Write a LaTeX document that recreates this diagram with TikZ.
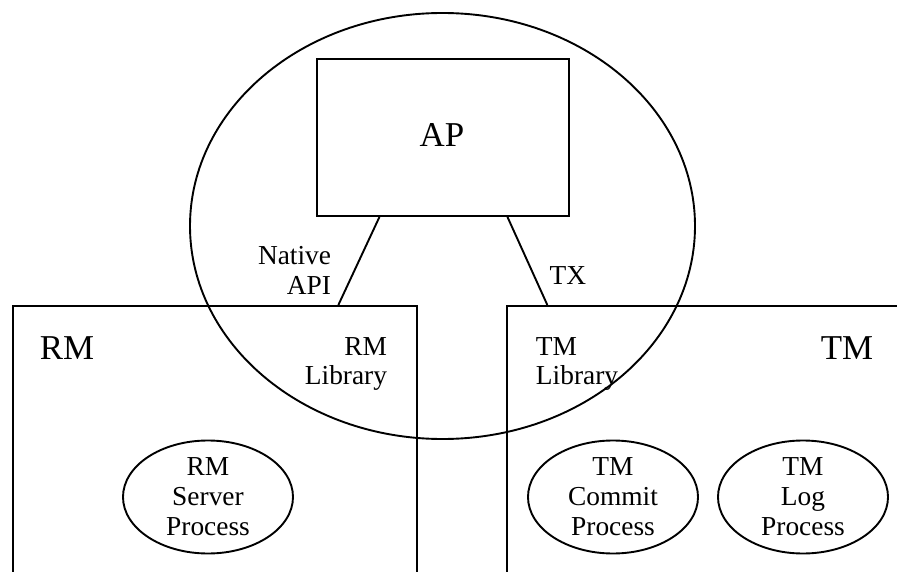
\documentclass[tikz,border=0pt]{standalone}
\usepackage{fontspec}
\setmainfont{Liberation Serif}
\usetikzlibrary{shapes.geometric, calc}

\begin{document}
\begin{tikzpicture}[x=1bp, y=-1bp, line width=1.9bp,
    bigtext/.style={font=\fontsize{35}{38}\selectfont, inner sep=0},
    smalltext/.style={font=\fontsize{27.5}{30}\selectfont, inner sep=0},
    procbox/.style={draw, ellipse, minimum width=170bp, minimum height=113bp, inner sep=0, align=center, font=\fontsize{27.5}{30}\selectfont}]

        \clip (0,0) rectangle (897,572);

        % ------------------ Boxes ------------------

        % AP
        \node[draw, minimum width=252bp, minimum height=157bp, anchor=north west, inner sep=0] (ap) at (316,58) {};
        \node[bigtext] (aptext) at (442,135) {AP};

        % Scope of the AP
        \node[draw, ellipse, minimum width=505bp, minimum height=426bp, inner sep=0] (scope) at (442.5,226) {};

        % RM
        \node[draw, minimum width=404bp, minimum height=320bp, anchor=north west, inner sep=0] (rm) at (12,305) {};
        \node[bigtext] (rmtext) at (67,348) {RM};
        \node[smalltext, align=right, anchor=east] (rmlib) at (388,364) {RM\\Library};

        % TM
        \node[draw, minimum width=420bp, minimum height=320bp, anchor=north west, inner sep=0] (tm) at (506,305) {};
        \node[bigtext] (tmtext) at (847,348) {TM};
        \node[smalltext, align=left, anchor=west] (tmlib) at (535,364) {TM\\Library};

        % Processes
        \node[procbox] (rmserver) at (208,497) {RM\\Server\\Process};
        \node[procbox] (tmcommit) at (613,497) {TM\\Commit\\Process};
        \node[procbox] (tmlog) at (803,497) {TM\\Log\\Process};

        % ------------------ Interfaces ------------------

        \draw ($(ap.south west)!0.25!(ap.south east)$) -- ($(rm.north west)!0.804!(rm.north east)$);
        \draw ($(ap.south west)!0.754!(ap.south east)$) -- ($(tm.north west)!0.098!(tm.north east)$);

        \node[smalltext, align=right, anchor=east] (native) at (332,270) {Native\\API};
        \node[smalltext] (tx) at (568,276) {TX};

    \end{tikzpicture}
\end{document}
